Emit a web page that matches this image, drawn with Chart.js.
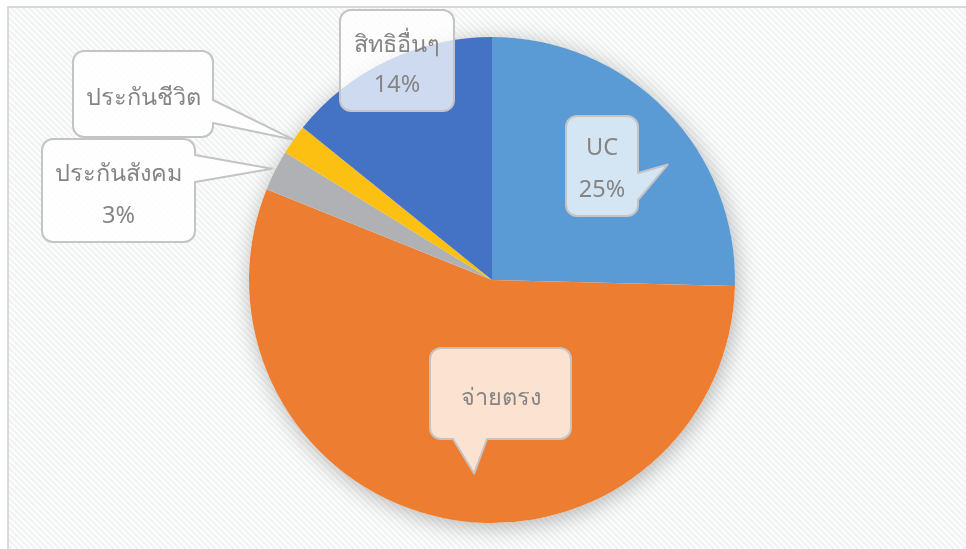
<!DOCTYPE html>
<html><head><meta charset="utf-8">
<script src="https://cdn.jsdelivr.net/npm/chart.js@4.4.1/dist/chart.umd.min.js"></script>
<style>html,body{margin:0;padding:0;background:#fff}#wrap{width:966px;height:549px;position:relative}</style>
</head><body><div id="wrap"><canvas id="c" width="966" height="549"></canvas></div>
<script>
const categories = ['UC', 'จ่ายตรง', 'ประกันสังคม', 'ประกันชีวิต', 'สิทธิอื่นๆ'];
const values = [25.4, 55.7, 2.7, 2.0, 14.2];
const colors = ['#5B9BD5', '#ED7D31', '#B0B1B4', '#FBC012', '#4472C4'];
const showPercent = [true, false, true, false, true];

// callout layout (box in px, pointer tip relative to slice)
const calloutLayout = [
  {box:[566,116,72,100], fill:'rgba(255,255,255,0.74)', side:'right', a:173, b:200, tip:{f:0.62, r:0.865}, lines:[148,190]},
  {box:[430,348,141,91], fill:'rgba(255,255,255,0.78)', side:'bottom', a:453, b:487, tip:{f:0.468, r:0.80}, lines:[398]},
  {box:[42,139,153,103], fill:'rgba(255,255,255,0.82)', side:'right', a:155, b:182, tip:{f:0.5, r:1.015}, lines:[174,216]},
  {box:[73,51,140,86], fill:'rgba(255,255,255,0.82)', side:'right', a:100, b:123, tip:{f:0.5, r:1.0}, lines:[98]},
  {box:[340,10,114,101], fill:'rgba(255,255,255,0.74)', side:null, lines:[45,85]}
];

function calloutPath(ctx, x, y, w, h, r, side, a, b, tip) {
  ctx.beginPath();
  ctx.moveTo(x + r, y);
  ctx.lineTo(x + w - r, y);
  ctx.arcTo(x + w, y, x + w, y + r, r);
  if (side === 'right') {
    ctx.lineTo(x + w, a);
    ctx.lineTo(tip.x, tip.y);
    ctx.lineTo(x + w, b);
  }
  ctx.lineTo(x + w, y + h - r);
  ctx.arcTo(x + w, y + h, x + w - r, y + h, r);
  if (side === 'bottom') {
    ctx.lineTo(b, y + h);
    ctx.lineTo(tip.x, tip.y);
    ctx.lineTo(a, y + h);
  }
  ctx.lineTo(x + r, y + h);
  ctx.arcTo(x, y + h, x, y + h - r, r);
  ctx.lineTo(x, y + r);
  ctx.arcTo(x, y, x + r, y, r);
  ctx.closePath();
}

const bgPlugin = {
  id: 'bg',
  beforeDraw(chart) {
    const ctx = chart.ctx;
    ctx.save();
    ctx.fillStyle = '#ffffff';
    ctx.fillRect(0, 0, chart.width, chart.height);
    const fx = 8, fy = 7, fw = chart.width - 8, fh = chart.height - 7;
    ctx.fillStyle = '#fdfdfd';
    ctx.fillRect(fx, fy, fw, fh);
    ctx.beginPath();
    ctx.rect(fx, fy, fw, fh);
    ctx.clip();
    ctx.strokeStyle = '#f1f2f2';
    ctx.lineWidth = 2;
    for (let k = -chart.height; k < chart.width + chart.height; k += 6) {
      ctx.beginPath();
      ctx.moveTo(k, 0);
      ctx.lineTo(k + chart.height, chart.height);
      ctx.stroke();
    }
    ctx.restore();
    ctx.save();
    ctx.strokeStyle = '#d9d9d9';
    ctx.lineWidth = 2;
    ctx.beginPath();
    ctx.moveTo(fx, chart.height);
    ctx.lineTo(fx, fy);
    ctx.lineTo(chart.width, fy);
    ctx.stroke();
    ctx.restore();
  },
  beforeDatasetsDraw(chart) {
    const arc = chart.getDatasetMeta(0).data[0];
    if (!arc) return;
    const ctx = chart.ctx;
    ctx.save();
    ctx.shadowColor = 'rgba(0,0,0,0.28)';
    ctx.shadowBlur = 22;
    ctx.shadowOffsetX = 2;
    ctx.shadowOffsetY = 4;
    ctx.fillStyle = '#ffffff';
    ctx.beginPath();
    ctx.arc(arc.x, arc.y, arc.outerRadius, 0, Math.PI * 2);
    ctx.fill();
    ctx.restore();
  }
};

const calloutPlugin = {
  id: 'callouts',
  afterDatasetsDraw(chart) {
    const ctx = chart.ctx;
    const meta = chart.getDatasetMeta(0);
    const total = values.reduce((s, v) => s + v, 0);
    ctx.save();
    meta.data.forEach((arc, i) => {
      const L = calloutLayout[i];
      const [x, y, w, h] = L.box;
      let tip = null;
      if (L.side) {
        const ang = arc.startAngle + (arc.endAngle - arc.startAngle) * L.tip.f;
        const rr = arc.outerRadius * L.tip.r;
        tip = {x: arc.x + Math.cos(ang) * rr, y: arc.y + Math.sin(ang) * rr};
      }
      calloutPath(ctx, x, y, w, h, 11, L.side, L.a, L.b, tip);
      ctx.fillStyle = L.fill;
      ctx.fill();
      ctx.strokeStyle = '#c4c4c4';
      ctx.lineWidth = 2;
      ctx.lineJoin = 'round';
      ctx.stroke();
      const texts = [categories[i]];
      if (showPercent[i]) texts.push(Math.round(values[i] / total * 100) + '%');
      ctx.fillStyle = '#858585';
      ctx.font = '23.5px "Noto Sans", "DejaVu Sans", sans-serif';
      ctx.textAlign = 'center';
      ctx.textBaseline = 'middle';
      texts.forEach((t, j) => ctx.fillText(t, x + w / 2, L.lines[j]));
    });
    ctx.restore();
  }
};

new Chart(document.getElementById('c'), {
  type: 'pie',
  data: {
    labels: categories,
    datasets: [{data: values, backgroundColor: colors, borderWidth: 0}]
  },
  options: {
    responsive: false,
    animation: false,
    layout: {padding: {left: 18, right: 0, top: 37, bottom: 26}},
    plugins: {legend: {display: false}, tooltip: {enabled: false}}
  },
  plugins: [bgPlugin, calloutPlugin]
});
</script>
</body></html>
